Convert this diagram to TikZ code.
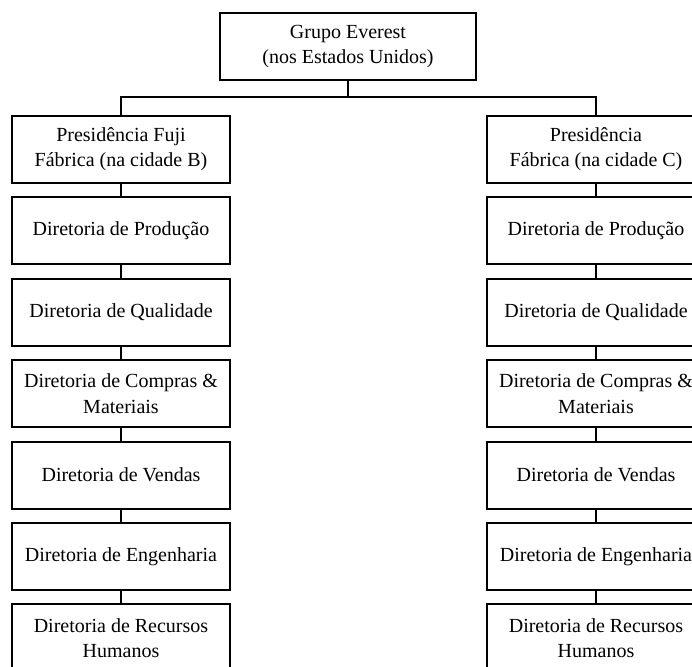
\documentclass[tikz,border=0pt]{standalone}
\usepackage{fontspec}
\setmainfont{Liberation Serif}

\begin{document}
\begin{tikzpicture}[
    x=0.75pt, y=-0.75pt,
    box/.style={rectangle, draw=black, line width=1.5pt, fill=white, minimum width=163.5pt, minimum height=50.25pt, align=center, inner sep=2pt, font=\fontsize{15}{19}\selectfont},
    headbox/.style={box, minimum width=192pt},
    link/.style={draw=black, line width=1.1pt}
]
\clip (0,0) rectangle (692,667);
\fill[white] (0,0) rectangle (692,667);

\node[headbox] (group) at (348,46.5) {Grupo Everest\\(nos Estados Unidos)};

% left column (cidade B)
\node[box] (presB) at (121,149.5) {Presidência Fuji\\Fábrica (na cidade B)};
\node[box] (prodB) at (121,230.9) {Diretoria de Produção};
\node[box] (qualB) at (121,312.3) {Diretoria de Qualidade};
\node[box] (compB) at (121,393.7) {Diretoria de Compras \&\\Materiais};
\node[box] (vendB) at (121,475.1) {Diretoria de Vendas};
\node[box] (engB)  at (121,556.5) {Diretoria de Engenharia};
\node[box] (rhB)   at (121,637.9) {Diretoria de Recursos\\Humanos};

% right column (cidade C)
\node[box] (presC) at (596,149.5) {Presidência\\Fábrica (na cidade C)};
\node[box] (prodC) at (596,230.9) {Diretoria de Produção};
\node[box] (qualC) at (596,312.3) {Diretoria de Qualidade};
\node[box] (compC) at (596,393.7) {Diretoria de Compras \&\\Materiais};
\node[box] (vendC) at (596,475.1) {Diretoria de Vendas};
\node[box] (engC)  at (596,556.5) {Diretoria de Engenharia};
\node[box] (rhC)   at (596,637.9) {Diretoria de Recursos\\Humanos};

\coordinate (bus) at (348,97);

\draw[link] (group.south) -- (bus);
\draw[link] (presB.north) |- (bus) -| (presC.north);

\draw[link] (presB) -- (prodB);
\draw[link] (prodB) -- (qualB);
\draw[link] (qualB) -- (compB);
\draw[link] (compB) -- (vendB);
\draw[link] (vendB) -- (engB);
\draw[link] (engB)  -- (rhB);

\draw[link] (presC) -- (prodC);
\draw[link] (prodC) -- (qualC);
\draw[link] (qualC) -- (compC);
\draw[link] (compC) -- (vendC);
\draw[link] (vendC) -- (engC);
\draw[link] (engC)  -- (rhC);
\end{tikzpicture}
\end{document}
